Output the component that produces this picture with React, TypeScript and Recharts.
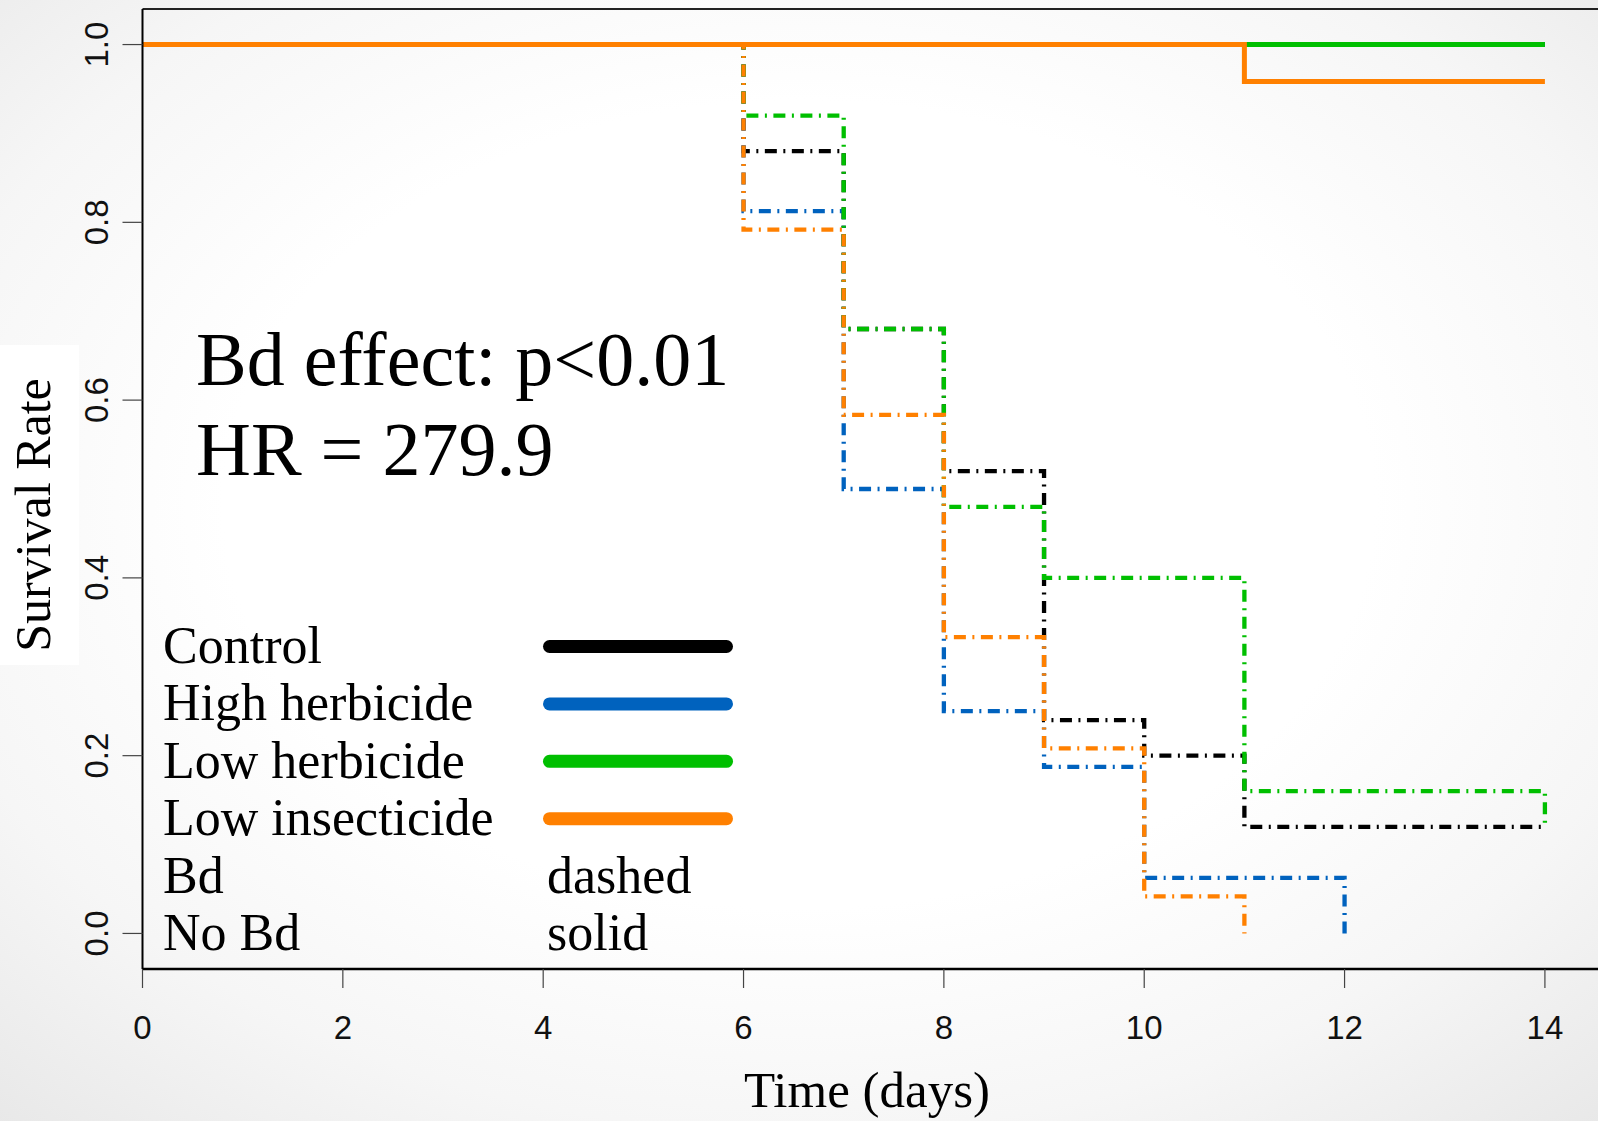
import React from "react";
import { LineChart, Line, XAxis, YAxis, ReferenceLine } from "recharts";

// ---- data ----
const xTicks = [0, 2, 4, 6, 8, 10, 12, 14];
const yTicks = [0, 0.2, 0.4, 0.6, 0.8, 1.0];

const seriesNames = ["Control", "High herbicide", "Low herbicide", "Low insecticide"];
const seriesColors = ["#000000", "#0062be", "#00bf00", "#ff8000"];

// Bd (dashed) Kaplan-Meier steps
const controlBdT = [0, 6, 7, 8, 9, 10, 11, 14];
const controlBdS = [1, 0.88, 0.68, 0.52, 0.24, 0.2, 0.12, 0.12];
const highHerbBdT = [0, 6, 7, 8, 9, 10, 12];
const highHerbBdS = [1, 0.8125, 0.5, 0.25, 0.1875, 0.0625, 0];
const lowHerbBdT = [0, 6, 7, 8, 9, 11, 14];
const lowHerbBdS = [1, 0.92, 0.68, 0.48, 0.4, 0.16, 0.12];
const lowInsBdT = [0, 6, 7, 8, 9, 10, 11];
const lowInsBdS = [1, 0.7917, 0.5833, 0.3333, 0.2083, 0.0417, 0];

// No Bd (solid)
const controlNoBdT = [0, 14];
const controlNoBdS = [1, 1];
const highHerbNoBdT = [0, 14];
const highHerbNoBdS = [1, 1];
const lowHerbNoBdT = [0, 14];
const lowHerbNoBdS = [1, 1];
const lowInsNoBdT = [0, 11, 14];
const lowInsNoBdS = [1, 0.9583, 0.9583];

const legendRows = ["Control", "High herbicide", "Low herbicide", "Low insecticide", "Bd", "No Bd"];
const styleLabels = ["dashed", "solid"];
const annotation = ["Bd effect: p<0.01", "HR = 279.9"];

const toPts = (t: number[], s: number[]) => t.map((v, i) => ({ t: v, s: s[i] }));

const series = [
  { key: "cBd", data: toPts(controlBdT, controlBdS), color: seriesColors[0], dashed: true },
  { key: "cNo", data: toPts(controlNoBdT, controlNoBdS), color: seriesColors[0], dashed: false },
  { key: "hBd", data: toPts(highHerbBdT, highHerbBdS), color: seriesColors[1], dashed: true },
  { key: "hNo", data: toPts(highHerbNoBdT, highHerbNoBdS), color: seriesColors[1], dashed: false },
  { key: "lBd", data: toPts(lowHerbBdT, lowHerbBdS), color: seriesColors[2], dashed: true },
  { key: "lNo", data: toPts(lowHerbNoBdT, lowHerbNoBdS), color: seriesColors[2], dashed: false },
  { key: "iBd", data: toPts(lowInsBdT, lowInsBdS), color: seriesColors[3], dashed: true },
  { key: "iNo", data: toPts(lowInsNoBdT, lowInsNoBdS), color: seriesColors[3], dashed: false },
];

const SERIF = "'Liberation Serif', 'Times New Roman', serif";
const SANS = "'Liberation Sans', Arial, sans-serif";

const XTick = (props: any) => (
  <text x={props.x} y={1039} textAnchor="middle" fontFamily={SANS} fontSize={33} fill="#111">
    {props.payload.value}
  </text>
);

const YTick = (props: any) => (
  <text
    x={108}
    y={props.y}
    textAnchor="middle"
    fontFamily={SANS}
    fontSize={33}
    fill="#111"
    transform={`rotate(-90, 108, ${props.y})`}
  >
    {Number(props.payload.value).toFixed(1)}
  </text>
);

export default function App() {
  const legendBase = 663;
  const legendStep = 57.4;
  return (
    <div
      style={{
        position: "absolute",
        left: 0,
        top: 0,
        width: 1598,
        height: 1121,
        overflow: "hidden",
        background:
          "radial-gradient(ellipse 80% 80% at 50% 45%, #ffffff 45%, #f6f6f6 70%, #e4e4e4 100%)",
      }}
    >
      <LineChart
        width={1598}
        height={1121}
        margin={{ top: 9, right: 0, bottom: 92, left: 62.5 }}
        style={{ position: "absolute", left: 0, top: 0 }}
      >
        <XAxis
          dataKey="t"
          type="number"
          domain={[0, 14.53]}
          ticks={xTicks}
          allowDataOverflow
          height={60}
          axisLine={{ stroke: "#000", strokeWidth: 2.5 }}
          tickLine={{ stroke: "#444", strokeWidth: 1.2 }}
          tickSize={19}
          tick={<XTick />}
        />
        <YAxis
          type="number"
          domain={[-0.04, 1.04]}
          ticks={yTicks}
          allowDataOverflow
          width={80}
          axisLine={{ stroke: "#000", strokeWidth: 2 }}
          tickLine={{ stroke: "#444", strokeWidth: 1.2 }}
          tickSize={20}
          tick={<YTick />}
        />
        <ReferenceLine y={1.04} stroke="#222" strokeWidth={2} />
        {series.map((s) => (
          <Line
            key={s.key}
            data={s.data}
            dataKey="s"
            type="stepAfter"
            stroke={s.color}
            strokeWidth={s.dashed ? 4.3 : 5}
            strokeDasharray={s.dashed ? "12 6.5 2 6.5" : undefined}
            strokeLinecap="butt"
            dot={false}
            activeDot={false}
            isAnimationActive={false}
          />
        ))}
      </LineChart>
      <svg
        width={1598}
        height={1121}
        style={{ position: "absolute", left: 0, top: 0, pointerEvents: "none" }}
      >
        <rect x={0} y={345} width={79} height={320} fill="#ffffff" />
        <text
          x={50}
          y={515}
          textAnchor="middle"
          fontFamily={SERIF}
          fontSize={50}
          fill="#000"
          transform="rotate(-90, 50, 515)"
        >
          Survival Rate
        </text>
        <text x={867} y={1107} textAnchor="middle" fontFamily={SERIF} fontSize={51} fill="#000">
          Time (days)
        </text>
        {annotation.map((a, i) => (
          <text key={a} x={196} y={385 + i * 90} fontFamily={SERIF} fontSize={76} fill="#000">
            {a}
          </text>
        ))}
        {legendRows.map((r, i) => (
          <text key={r} x={163} y={legendBase + i * legendStep} fontFamily={SERIF} fontSize={52} fill="#000">
            {r}
          </text>
        ))}
        {seriesNames.map((n, i) => (
          <line
            key={n}
            x1={549.5}
            x2={726.5}
            y1={646.5 + i * legendStep}
            y2={646.5 + i * legendStep}
            stroke={seriesColors[i]}
            strokeWidth={13}
            strokeLinecap="round"
          />
        ))}
        {styleLabels.map((l, i) => (
          <text key={l} x={547} y={legendBase + (4 + i) * legendStep} fontFamily={SERIF} fontSize={52} fill="#000">
            {l}
          </text>
        ))}
      </svg>
    </div>
  );
}
